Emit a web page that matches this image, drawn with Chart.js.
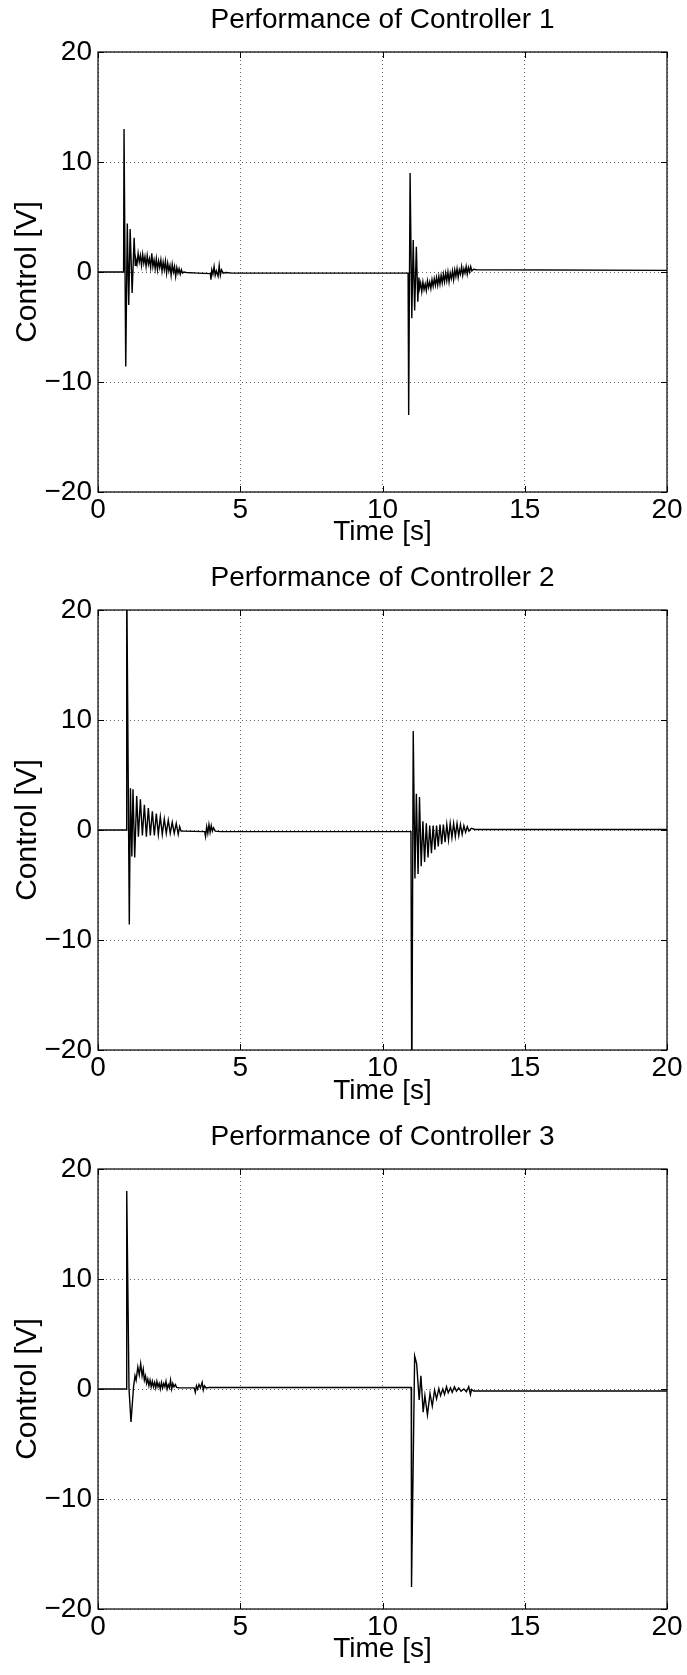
<!DOCTYPE html>
<html>
<head>
<meta charset="utf-8">
<title>Controller performance</title>
<script src="https://cdn.jsdelivr.net/npm/chart.js@4"></script>
<style>
  html, body { margin: 0; padding: 0; background: #ffffff; }
  canvas { display: block; }
</style>
</head>
<body>
<canvas id="c1" width="687" height="558"></canvas>
<canvas id="c2" width="687" height="559"></canvas>
<canvas id="c3" width="687" height="558"></canvas>
<script>
// Axis ticks shared by the three panels
const xTicks = [0, 5, 10, 15, 20];
const yTicks = [-20, -10, 0, 10, 20];
const panelTitles = ['Performance of Controller 1', 'Performance of Controller 2', 'Performance of Controller 3'];
const xLabel = 'Time [s]';
const yLabel = 'Control [V]';

// Controller 1: control signal [V] against time [s]
const time1 = [0, 0.90, 0.915, 0.975, 1.03, 1.08, 1.13, 1.20, 1.27, 1.31,
  1.33, 1.37, 1.41, 1.45, 1.49, 1.53, 1.57, 1.61, 1.65, 1.69, 1.73, 1.77, 1.81, 1.85, 1.89, 1.93, 1.97,
  2.01, 2.05, 2.09, 2.13, 2.17, 2.21, 2.25, 2.29, 2.33, 2.37, 2.41, 2.45, 2.49, 2.53, 2.57, 2.61, 2.65,
  2.69, 2.73, 2.77, 2.81, 2.85, 2.89, 2.93, 2.97, 3.02, 3.10, 3.50, 3.95,
  3.97, 4.00, 4.04, 4.08, 4.12, 4.16, 4.22, 4.26, 4.30, 4.34, 4.40, 4.50, 4.70,
  10.90, 10.92, 10.97, 11.03, 11.08, 11.13, 11.19, 11.24, 11.28,
  11.30, 11.34, 11.38, 11.42, 11.46, 11.50, 11.54, 11.58, 11.62, 11.66, 11.70, 11.74, 11.78, 11.82,
  11.86, 11.90, 11.94, 11.98, 12.02, 12.06, 12.10, 12.14, 12.18, 12.22, 12.26, 12.30, 12.34, 12.38,
  12.42, 12.46, 12.50, 12.54, 12.58, 12.62, 12.66, 12.70, 12.74, 12.78, 12.82, 12.86, 12.90, 12.94,
  12.98, 13.02, 13.06, 13.10, 13.14, 13.20, 13.30, 20];
const control1 = [0, 0, 13.0, -8.6, 4.4, -3.0, 3.9, -1.9, 3.1, 0.6,
  1.2, 0.7, 1.7, 0.9, 1.5, 0.6, 1.6, 0.8, 1.4, 0.5, 1.5, 0.7, 1.2, 0.4, 1.7, 0.5, 1.1,
  0.3, 1.2, 0.2, 1.0, 0.4, 1.1, 0.1, 0.9, 0.2, 1.0, -0.1, 0.8, 0.1, 0.6, -0.3, 0.7, 0.0,
  0.5, -0.4, 0.4, -0.1, 0.3, -0.2, 0.2, -0.1, 0.0, -0.05, -0.1, -0.15,
  -0.7, 0.2, -0.2, 0.5, -0.3, 0.1, -0.4, 0.6, -0.3, 0.2, -0.1, -0.05, -0.1,
  -0.1, -13.0, 9.0, -4.2, 2.9, -3.5, 2.3, -2.7, -0.5,
  -1.5, -1.0, -1.8, -0.9, -1.6, -1.1, -1.7, -0.8, -1.4, -0.9, -1.5, -0.7, -1.3, -0.6,
  -1.2, -0.5, -1.2, -0.4, -1.1, -0.3, -1.0, -0.2, -0.9, -0.1, -0.8, 0.0, -0.9, -0.1,
  -0.6, 0.1, -0.7, 0.2, -0.4, 0.3, -0.5, 0.2, -0.2, 0.5, -0.3, 0.3, -0.1, 0.5,
  -0.2, 0.4, 0.0, 0.5, 0.1, 0.25, 0.2, 0.15];

// Controller 2
const time2 = [0, 1.00, 1.01, 1.10, 1.14, 1.19, 1.23, 1.29, 1.36, 1.42, 1.49, 1.56, 1.63, 1.70,
  1.77, 1.84, 1.91, 1.98, 2.05, 2.12, 2.19, 2.26, 2.33, 2.40, 2.47, 2.54, 2.61, 2.68, 2.75, 2.82,
  2.87, 2.92, 3.00, 3.75,
  3.78, 3.82, 3.86, 3.90, 3.94, 3.98, 4.02, 4.06, 4.12, 4.30,
  11.00, 11.03, 11.08, 11.14, 11.19, 11.25, 11.30, 11.36, 11.42, 11.48, 11.54, 11.60, 11.66, 11.72,
  11.78, 11.84, 11.90, 11.96, 12.02, 12.08, 12.14, 12.20, 12.26, 12.32, 12.38, 12.44, 12.50, 12.56,
  12.62, 12.68, 12.74, 12.80, 12.86, 12.92, 12.98, 13.04, 13.12, 13.25, 20];
const control2 = [0, 0, 23.0, -8.6, 3.8, -2.4, 3.7, -2.5, 3.1, -0.6, 2.8, -0.5, 2.3, -0.6,
  2.0, -0.5, 1.7, -0.5, 1.5, -0.4, 1.2, -0.4, 1.0, -0.3, 0.9, -0.3, 0.7, -0.3, 0.6, -0.4,
  0.3, -0.1, -0.1, -0.15,
  -0.6, 0.3, -0.3, 0.5, -0.2, 0.4, -0.1, 0.2, -0.1, -0.15,
  -0.15, -24.0, 9.0, -4.4, 3.3, -4.0, 3.0, -3.3, 0.8, -2.9, 0.6, -2.5, 0.4, -2.1,
  0.4, -1.8, 0.4, -1.5, 0.5, -1.3, 0.5, -1.1, 0.5, -0.9, 0.6, -0.7, 0.6, -0.6,
  0.6, -0.5, 0.5, -0.4, 0.4, -0.2, 0.3, -0.1, 0.15, 0.05, 0.05];

// Controller 3
const time3 = [0, 0.99, 1.01, 1.09, 1.16, 1.25, 1.30, 1.34, 1.40, 1.45, 1.50, 1.55, 1.59, 1.63,
  1.67, 1.71, 1.75, 1.79, 1.83, 1.87, 1.91, 1.95, 1.99, 2.03, 2.07, 2.11, 2.15, 2.19, 2.23, 2.27,
  2.31, 2.35, 2.39, 2.43, 2.47, 2.51, 2.55, 2.59, 2.63, 2.67, 2.72, 2.76, 2.85, 3.05,
  3.38, 3.42, 3.46, 3.50, 3.55, 3.60, 3.66, 3.70, 3.74, 3.80, 3.90,
  11.01, 11.02, 11.13, 11.20, 11.29, 11.35, 11.43, 11.49, 11.58, 11.67, 11.75, 11.83, 11.90,
  11.98, 12.04, 12.12, 12.18, 12.25, 12.31, 12.39, 12.45, 12.53, 12.60, 12.68, 12.76, 12.86,
  12.95, 13.03, 13.09, 13.13, 13.20, 20];
const control3 = [0, 0, 18.0, 0.0, -3.0, 0.2, 1.2, 0.8, 2.0, 1.3, 2.3, 1.2, 1.8, 0.8,
  1.2, 0.5, 0.9, 0.3, 0.8, 0.2, 0.7, 0.2, 0.6, 0.1, 0.7, 0.2, 0.5, 0.0, 0.6, 0.1,
  0.5, 0.2, 0.7, 0.0, 0.4, 0.1, 0.8, 0.0, 0.5, 0.2, 0.4, 0.15, 0.1, 0.1,
  0.1, -0.3, 0.3, 0.0, 0.4, 0.1, 0.6, -0.1, 0.3, 0.1, 0.13,
  0.13, -18.0, 3.0, 2.3, -1.0, 1.2, -2.1, -0.6, -2.35, -0.4, -1.55, -0.1, -0.9,
  0.04, -0.6, 0.0, -0.5, 0.2, -0.35, 0.1, -0.3, 0.2, -0.2, 0.1, -0.2, 0.0,
  -0.25, 0.2, -0.5, -0.05, -0.18, -0.18];

const FONT = "'Liberation Sans', Arial, Helvetica, sans-serif";
Chart.defaults.font.family = FONT;
Chart.defaults.color = '#000';

// Solid box round the plot area with short inward tick marks on all four sides
const axesBox = {
  id: 'axesBox',
  afterDraw(chart) {
    const { ctx, chartArea: { left, right, top, bottom }, scales: { x, y } } = chart;
    const len = 6;
    ctx.save();
    ctx.strokeStyle = '#000';
    ctx.lineWidth = 1;
    ctx.beginPath();
    x.ticks.forEach(t => {
      const px = Math.round(x.getPixelForValue(t.value)) + 0.5;
      ctx.moveTo(px, bottom); ctx.lineTo(px, bottom - len);
      ctx.moveTo(px, top); ctx.lineTo(px, top + len);
    });
    y.ticks.forEach(t => {
      const py = Math.round(y.getPixelForValue(t.value)) + 0.5;
      ctx.moveTo(left, py); ctx.lineTo(left + len, py);
      ctx.moveTo(right, py); ctx.lineTo(right - len, py);
    });
    ctx.stroke();
    ctx.lineWidth = 1.2;
    ctx.strokeRect(left, top, right - left, bottom - top);
    ctx.restore();
  }
};

const signed = v => (v < 0 ? '\u2212' + Math.abs(v) : String(v));

function buildPanel(id, title, time, control) {
  const canvas = document.getElementById(id);
  const axisHeight = canvas.height - 492;
  return new Chart(canvas, {
    type: 'line',
    data: {
      datasets: [{
        data: time.map((t, i) => ({ x: t, y: control[i] })),
        borderColor: '#000',
        borderWidth: 1.4,
        pointRadius: 0,
        tension: 0,
        fill: false
      }]
    },
    options: {
      responsive: false,
      animation: false,
      events: [],
      layout: { padding: { left: 0, right: 20, top: 0, bottom: 0 } },
      plugins: {
        legend: { display: false },
        tooltip: { enabled: false },
        title: {
          display: true, text: title, color: '#000', fullSize: false,
          font: { size: 28, weight: 'normal', lineHeight: 1 },
          padding: { top: 6, bottom: 18 }
        }
      },
      scales: {
        x: {
          type: 'linear', min: 0, max: 20,
          afterBuildTicks: s => { s.ticks = xTicks.map(v => ({ value: v })); },
          afterFit: s => { s.height = axisHeight; },
          ticks: { color: '#000', font: { size: 28, lineHeight: 1 }, padding: 4, maxRotation: 0, autoSkip: false, callback: signed },
          grid: { color: '#666', lineWidth: 1, drawTicks: false },
          border: { display: false, dash: [1, 3] },
          title: { display: true, text: xLabel, color: '#000', font: { size: 28, lineHeight: 1 }, padding: { top: 0, bottom: 12 } }
        },
        y: {
          type: 'linear', min: -20, max: 20,
          afterBuildTicks: s => { s.ticks = yTicks.map(v => ({ value: v })); },
          afterFit: s => { s.width = 98; },
          ticks: { color: '#000', font: { size: 28, lineHeight: 1 }, padding: 6, autoSkip: false, callback: signed },
          grid: { color: '#666', lineWidth: 1, drawTicks: false },
          border: { display: false, dash: [1, 3] },
          title: { display: true, text: yLabel, color: '#000', font: { size: 30, lineHeight: 1 }, padding: { top: 13, bottom: 0 } }
        }
      }
    },
    plugins: [axesBox]
  });
}

buildPanel('c1', panelTitles[0], time1, control1);
buildPanel('c2', panelTitles[1], time2, control2);
buildPanel('c3', panelTitles[2], time3, control3);
</script>
</body>
</html>
